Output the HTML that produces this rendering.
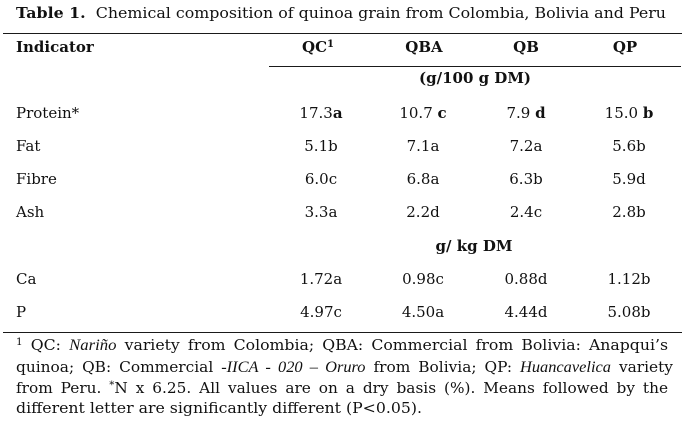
<!DOCTYPE html>
<html>
<head>
<meta charset="utf-8">
<style>
  html,body{margin:0;padding:0;background:#fff;}
  body{width:684px;height:421px;position:relative;overflow:hidden;
       font-family:"DejaVu Serif","Liberation Serif",serif;color:#111;}
  .t{position:absolute;font-size:15px;line-height:20px;white-space:nowrap;}
  .f{position:absolute;font-size:15px;line-height:20px;white-space:nowrap;left:16px;}
  .c{width:110px;text-align:center;}
  .rule{position:absolute;background:#1a1a1a;height:1.5px;}
  b{font-weight:bold;}
  sup{font-size:10px;line-height:0;vertical-align:5px;}
  .it{font-family:"Liberation Serif",serif;font-style:italic;font-size:16px;}
</style>
</head>
<body>
<div class="t" id="title" style="left:16px;top:3px;"><b>Table 1.</b>&nbsp; Chemical composition of quinoa grain from Colombia, Bolivia and Peru</div>

<div class="rule" style="left:3px;top:32.5px;width:679px;"></div>

<div class="t" style="left:16px;top:37px;"><b>Indicator</b></div>
<div class="t c" style="left:263px;top:37px;"><b>QC<sup>1</sup></b></div>
<div class="t c" style="left:369px;top:37px;"><b>QBA</b></div>
<div class="t c" style="left:471px;top:37px;"><b>QB</b></div>
<div class="t c" style="left:570px;top:37px;"><b>QP</b></div>

<div class="rule" style="left:269px;top:65.5px;width:412px;"></div>

<div class="t c" style="left:419px;top:68px;"><b>(g/100 g DM)</b></div>

<div class="t" style="left:16px;top:103px;">Protein*</div>
<div class="t c" style="left:266px;top:103px;">17.3<b>a</b></div>
<div class="t c" style="left:368px;top:103px;">10.7 <b>c</b></div>
<div class="t c" style="left:471px;top:103px;">7.9 <b>d</b></div>
<div class="t c" style="left:574px;top:103px;">15.0 <b>b</b></div>

<div class="t" style="left:16px;top:136px;">Fat</div>
<div class="t c" style="left:266px;top:136px;">5.1b</div>
<div class="t c" style="left:368px;top:136px;">7.1a</div>
<div class="t c" style="left:471px;top:136px;">7.2a</div>
<div class="t c" style="left:574px;top:136px;">5.6b</div>

<div class="t" style="left:16px;top:169px;">Fibre</div>
<div class="t c" style="left:266px;top:169px;">6.0c</div>
<div class="t c" style="left:368px;top:169px;">6.8a</div>
<div class="t c" style="left:471px;top:169px;">6.3b</div>
<div class="t c" style="left:574px;top:169px;">5.9d</div>

<div class="t" style="left:16px;top:202px;">Ash</div>
<div class="t c" style="left:266px;top:202px;">3.3a</div>
<div class="t c" style="left:368px;top:202px;">2.2d</div>
<div class="t c" style="left:471px;top:202px;">2.4c</div>
<div class="t c" style="left:574px;top:202px;">2.8b</div>

<div class="t c" style="left:419px;top:236px;"><b>g/ kg DM</b></div>

<div class="t" style="left:16px;top:269px;">Ca</div>
<div class="t c" style="left:266px;top:269px;">1.72a</div>
<div class="t c" style="left:368px;top:269px;">0.98c</div>
<div class="t c" style="left:471px;top:269px;">0.88d</div>
<div class="t c" style="left:574px;top:269px;">1.12b</div>

<div class="t" style="left:16px;top:302px;">P</div>
<div class="t c" style="left:266px;top:302px;">4.97c</div>
<div class="t c" style="left:368px;top:302px;">4.50a</div>
<div class="t c" style="left:471px;top:302px;">4.44d</div>
<div class="t c" style="left:574px;top:302px;">5.08b</div>

<div class="rule" style="left:3px;top:331.5px;width:679px;"></div>

<div class="f" id="f1" style="top:335px;"><sup>1</sup> QC: <span class="it">Nariño</span> variety from Colombia; QBA: Commercial from Bolivia: Anapqui’s</div>
<div class="f" id="f2" style="top:357px;">quinoa; QB: Commercial <span class="it">-IICA - 020 – Oruro</span> from Bolivia; QP: <span class="it">Huancavelica</span> variety</div>
<div class="f" id="f3" style="top:378px;">from Peru. <sup>*</sup>N x 6.25. All values are on a dry basis (%). Means followed by the</div>
<div class="f" id="f4" style="top:398px;">different letter are significantly different (P&lt;0.05).</div>

<script>
function fit(id, w, justify){
  var el=document.getElementById(id);
  el.style.display='inline-block';
  var nat=el.getBoundingClientRect().width;
  var spaces=(el.textContent.match(/ /g)||[]).length;
  if(justify && nat<w && spaces>0){
    var ex=Math.min((w-nat)/spaces,3);
    el.style.wordSpacing=ex+'px';
    nat=el.getBoundingClientRect().width;
  }
  el.style.transformOrigin='0 0';
  el.style.transform='scaleX('+(w/nat)+')';
}
fit('title',650,false);
fit('f1',652,true);
fit('f2',657,true);
fit('f3',652,true);
fit('f4',406,false);
</script>
</body>
</html>
